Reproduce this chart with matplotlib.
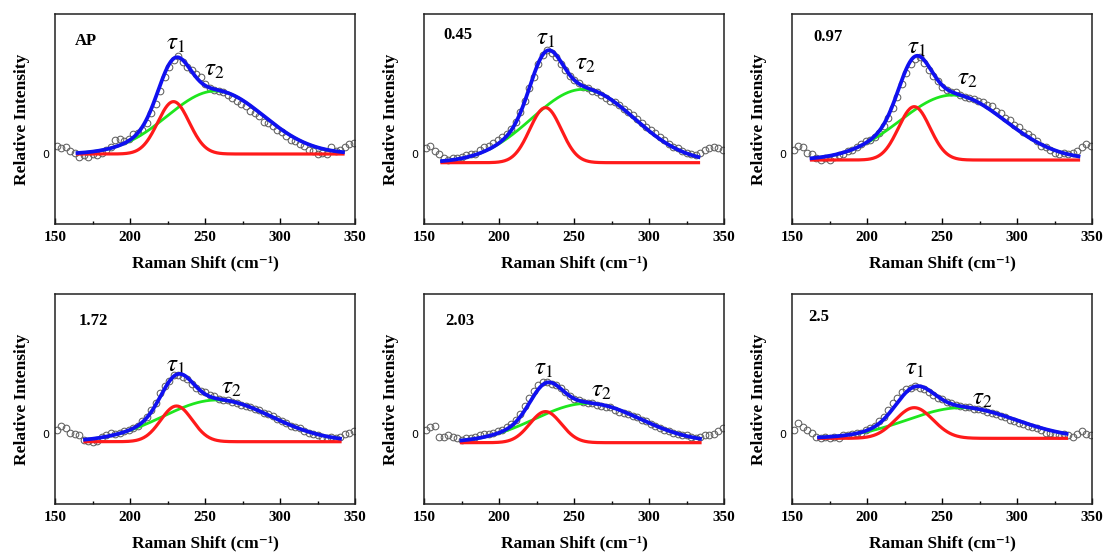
import numpy as np
import matplotlib
matplotlib.use("Agg")
import matplotlib.pyplot as plt
from matplotlib.ticker import MultipleLocator

plt.rcParams["mathtext.fontset"] = "stix"

# Raman shift grid of the measured points (cm-1)
shift = np.arange(151, 350, 3)

samples = ["AP", "0.45", "0.97", "1.72", "2.03", "2.5"]

meas_ap = [0.06, 0.04, 0.05, 0.02, 0.01, -0.02, -0.01, -0.02, 0.0, -0.01, 0.01, 0.03, 0.05,
           0.1, 0.11, 0.09, 0.11, 0.14, 0.15, 0.17, 0.22, 0.29, 0.36, 0.45, 0.55, 0.62, 0.67,
           0.70, 0.66, 0.62, 0.60, 0.57, 0.55, 0.50, 0.47, 0.46, 0.45, 0.44, 0.42, 0.40, 0.38,
           0.36, 0.34, 0.31, 0.29, 0.27, 0.23, 0.22, 0.20, 0.17, 0.16, 0.13, 0.10, 0.09, 0.07,
           0.06, 0.03, 0.02, 0.0, 0.01, 0.0, 0.05, 0.02, 0.03, 0.05, 0.07, 0.08]
meas_045 = [0.04, 0.06, 0.02, 0.0, -0.03, -0.04, -0.03, -0.03, -0.02, -0.01, 0.0, 0.0, 0.03,
            0.05, 0.06, 0.08, 0.1, 0.12, 0.14, 0.18, 0.23, 0.3, 0.38, 0.47, 0.55, 0.64, 0.71,
            0.74, 0.72, 0.69, 0.64, 0.6, 0.56, 0.53, 0.51, 0.48, 0.47, 0.45, 0.44, 0.42, 0.4,
            0.38, 0.37, 0.35, 0.32, 0.3, 0.28, 0.25, 0.22, 0.19, 0.17, 0.15, 0.12, 0.1, 0.07,
            0.05, 0.04, 0.02, 0.01, 0.0, -0.01, 0.01, 0.03, 0.04, 0.05, 0.04, 0.03]
meas_097 = [0.03, 0.06, 0.05, 0.01, 0.0, -0.03, -0.04, -0.03, -0.04, -0.02, -0.01, 0.0, 0.02,
            0.03, 0.05, 0.07, 0.09, 0.1, 0.12, 0.15, 0.2, 0.26, 0.33, 0.41, 0.5, 0.58, 0.64,
            0.68, 0.69, 0.65, 0.6, 0.56, 0.52, 0.48, 0.46, 0.44, 0.44, 0.42, 0.41, 0.4, 0.39,
            0.38, 0.37, 0.35, 0.34, 0.31, 0.29, 0.26, 0.24, 0.21, 0.19, 0.16, 0.14, 0.12, 0.09,
            0.06, 0.05, 0.03, 0.01, 0.0, 0.01, 0.0, 0.01, 0.02, 0.05, 0.07, 0.06]
meas_172 = [0.03, 0.06, 0.04, 0.01, 0.0, -0.01, -0.04, -0.05, -0.06, -0.05, -0.02, -0.01, 0.01,
            0.0, 0.01, 0.02, 0.03, 0.04, 0.06, 0.09, 0.12, 0.17, 0.22, 0.29, 0.34, 0.38, 0.42,
            0.42, 0.41, 0.39, 0.36, 0.33, 0.31, 0.3, 0.28, 0.27, 0.25, 0.24, 0.24, 0.23, 0.22,
            0.21, 0.2, 0.19, 0.18, 0.17, 0.15, 0.14, 0.13, 0.11, 0.09, 0.08, 0.06, 0.05, 0.04,
            0.02, 0.01, 0.0, -0.01, -0.02, -0.03, -0.02, -0.03, -0.02, 0.0, 0.01, 0.02]
meas_203 = [0.03, 0.05, 0.06, -0.02, -0.02, -0.01, -0.02, -0.03, -0.04, -0.03, -0.03, -0.02, -0.01,
            0.0, 0.0, 0.01, 0.02, 0.03, 0.05, 0.07, 0.1, 0.14, 0.2, 0.26, 0.31, 0.35, 0.37,
            0.37, 0.36, 0.35, 0.33, 0.3, 0.27, 0.25, 0.24, 0.23, 0.22, 0.22, 0.21, 0.2, 0.19,
            0.19, 0.17, 0.16, 0.15, 0.14, 0.13, 0.12, 0.1, 0.09, 0.07, 0.06, 0.04, 0.03, 0.02,
            0.01, 0.0, -0.01, -0.01, -0.02, -0.03, -0.02, -0.01, -0.01, 0.0, 0.02, 0.04]
meas_25 = [0.03, 0.08, 0.05, 0.03, 0.01, -0.02, -0.03, -0.02, -0.03, -0.02, -0.03, -0.01, -0.01,
           0.0, 0.01, 0.01, 0.03, 0.04, 0.06, 0.09, 0.12, 0.17, 0.22, 0.26, 0.3, 0.32, 0.33,
           0.34, 0.33, 0.32, 0.3, 0.28, 0.26, 0.25, 0.23, 0.22, 0.21, 0.2, 0.19, 0.19, 0.18,
           0.18, 0.17, 0.16, 0.15, 0.14, 0.13, 0.12, 0.1, 0.09, 0.08, 0.07, 0.06, 0.05, 0.04,
           0.03, 0.01, 0.01, 0.0, -0.01, 0.0, -0.01, -0.02, 0.0, 0.02, 0.0, -0.01]
measured = [meas_ap, meas_045, meas_097, meas_172, meas_203, meas_25]

# fitted components: baseline, tau1 (red) and tau2 (green) Gaussian parameters
baseline = [0.0, -0.062, -0.043, -0.055, -0.062, -0.031]
tau1_pos = [229.0, 231.0, 231.5, 231.0, 231.0, 231.5]
tau1_amp = [0.374, 0.393, 0.381, 0.255, 0.222, 0.219]
tau1_wid = [10.5, 10.5, 10.5, 10.5, 10.5, 12.5]
tau2_pos = [257.0, 256.0, 257.0, 258.0, 259.0, 263.0]
tau2_amp = [0.45, 0.524, 0.464, 0.298, 0.281, 0.219]
tau2_wid = [32.0, 34.0, 35.0, 36.0, 35.0, 36.0]
fit_lo = [165, 162, 163, 170, 175, 168]
fit_hi = [342, 333, 341, 340, 334, 333]

# label positions (data coords) for tau1 / tau2
tau1_lbl = [(230.5, 0.79), (231, 0.826), (233, 0.767), (230.5, 0.49), (229.5, 0.469), (232, 0.469)]
tau2_lbl = [(256.5, 0.61), (257.5, 0.648), (267, 0.54), (267.5, 0.338), (268.5, 0.314), (277, 0.255)]
name_pos = [(0.066, 0.87), (0.066, 0.9), (0.07, 0.89), (0.08, 0.87), (0.07, 0.87), (0.055, 0.89)]


def gauss(x, c, a, w):
    return a * np.exp(-(x - c) ** 2 / (2 * w ** 2))


fig = plt.figure(figsize=(11.04, 5.56), dpi=100)
lefts = [55, 424, 792]
tops = [14, 294]

serif = "Liberation Serif"

for k, name in enumerate(samples):
    r, c = divmod(k, 3)
    ax = fig.add_axes([lefts[c] / 1104, 1 - (tops[r] + 210) / 556, 300 / 1104, 210 / 556])

    ax.plot(shift, measured[k], "o", mfc="none", mec="#606060", ms=4.8, mew=0.75, zorder=1)

    xf = np.linspace(fit_lo[k], fit_hi[k], 300)
    b = baseline[k]
    g1 = gauss(xf, tau1_pos[k], tau1_amp[k], tau1_wid[k])
    g2 = gauss(xf, tau2_pos[k], tau2_amp[k], tau2_wid[k])
    ax.plot(xf, b + g2, color="#1ee61e", lw=2.0, zorder=2)
    ax.plot(xf, b + g1, color="#ff1a1a", lw=2.3, zorder=3)
    ax.plot(xf, b + g1 + g2, color="#1010f0", lw=2.7, zorder=4)

    ax.text(*tau1_lbl[k], r"$\tau_1$", fontsize=18, ha="center", va="center")
    ax.text(*tau2_lbl[k], r"$\tau_2$", fontsize=18, ha="center", va="center")
    ax.text(name_pos[k][0], name_pos[k][1], name, transform=ax.transAxes, fontsize=12,
            fontweight="bold", family=serif, ha="left", va="center")

    ax.set_xlim(150, 350)
    ax.set_ylim(-0.5, 1.0)
    ax.xaxis.set_major_locator(MultipleLocator(50))
    ax.xaxis.set_minor_locator(MultipleLocator(25))
    ax.tick_params(axis="x", which="major", direction="in", length=4, width=1, pad=5)
    ax.tick_params(axis="x", which="minor", direction="in", length=2.5, width=1)
    ax.set_yticks([0])
    ax.tick_params(axis="y", length=0, pad=4, labelsize=8)
    for lab in ax.get_xticklabels():
        lab.set_fontfamily(serif)
        lab.set_fontweight("bold")
        lab.set_fontsize(11)
    for sp in ax.spines.values():
        sp.set_linewidth(1.1)
        sp.set_color("#222222")

    ax.set_xlabel("Raman Shift (cm\u207b\u00b9)", fontsize=12.5, fontweight="bold",
                  family=[serif, "DejaVu Serif"], labelpad=8)
    ax.set_ylabel("Relative Intensity", fontsize=12.5, fontweight="bold", family=serif,
                  labelpad=9)

fig.savefig("out.png", dpi=100)
